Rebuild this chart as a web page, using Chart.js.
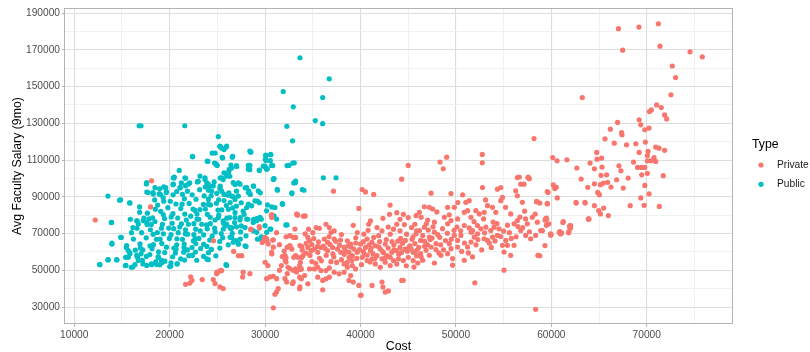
<!DOCTYPE html>
<html><head><meta charset="utf-8">
<script src="https://cdn.jsdelivr.net/npm/chart.js@4"></script>
<style>html,body{margin:0;padding:0;background:#fff}#wrap{width:810px;height:352px;position:relative}</style>
</head><body><div id="wrap"><canvas id="c" width="810" height="352"></canvas></div>
<script>
const seriesNames = ["Private", "Public"];
const seriesColors = ["#F8766D", "#00BFC4"];
const xTickValues = [10000, 20000, 30000, 40000, 50000, 60000, 70000];
const yTickValues = [30000, 50000, 70000, 90000, 110000, 130000, 150000, 170000, 190000];

const privateData = [
[18100,98700],[18000,84500],[12200,77400],
[30650,80000],[30700,78800],[33400,80000],[34000,79500],[28500,72400],[29400,73000],[30000,67900],[30200,66100],[29900,67000],[29700,65200],[30800,66500],[32200,68300],[33200,67900],[32600,62900],[32800,61600],[33850,62900],[33200,58000],[33000,57100],[33850,57100],[33700,54400],[30700,58900],[30000,54400],[30300,52600],[31700,52600],[32400,51700],[33200,50800],[33700,50500],[26700,60300],[27200,58000],[27550,58000],[24600,66100],[24950,49000],[25450,49900],[27700,49000],
[22200,46400],[22340,44600],[22130,43100],[21670,42400],[23410,45000],[24570,45000],[24750,42800],[24920,48200],[25090,49100],[25340,50000],[25270,41000],[25610,40100],[27650,46400],[28410,48200],[28490,72300],[29390,73800],[30690,80300],[30690,59900],[30160,67100],[29990,66200],[30860,66600],[30330,64400],[30860,62600],[32080,58100],[32190,56900],[32110,55400],[32190,54500],[32600,50900],[32950,50000],[33300,49100],[30160,45500],[30510,46400],[31210,45500],[30860,46800],[31380,40100],[31210,38300],[31030,37000],[30860,29600],[32320,48200],[32080,45500],[32260,43700],[32950,43700],[32880,42800],[33650,41000],[33300,80600],[32600,68900],[32950,68000],[33130,72500],[32320,62600],[32600,63500],[33650,63500],
[37170,93100],[40175,94000],[40520,92700],[41380,91300],[39830,83700],[43100,85500],[33380,80500],[34200,79600],[43040,80500],[43800,81400],[44490,80500],[45000,78700],[44140,77800],[39240,74500],[41040,76900],[40860,75100],[42350,78300],[41730,73300],[42250,71500],[36380,75100],[36730,73300],[36900,70600],[37240,71500],[34550,72400],[35345,73300],[35690,72900],[39660,70600],[40350,69700],[40690,67000],[41380,67900],[43800,75100],[43450,72400],[43110,69700],[44140,71500],[44830,69700],[45350,73300],[45700,75100],[45870,71500],[34480,67900],[34650,66100],[36200,67000],[36550,65200],[37240,67000],[34480,62500],[34830,60700],[35170,61600],[35520,59800],[35860,62500],[36550,60700],[37070,62500],[37590,61600],[37930,59800],[38280,62500],[38620,66100],[38970,64300],[39310,61600],[38790,59800],[39140,58000],[39660,59800],[40000,64300],[40520,62500],[41040,60700],[41550,63400],[42070,61600],[42590,64300],[40170,57100],[40690,55300],[41210,56200],[41730,58000],[42250,56200],[42760,58000],[43280,59800],[43800,60700],[44140,62500],[44660,61600],[45180,63400],[45520,59800],[45870,58000],[41550,53500],[42070,51700],[42590,54400],[43110,52600],[43450,55300],[43970,56200],[44490,55300],[45000,57100],[45520,55300],[33450,57100],[33970,58000],[33620,52600],[33800,50800],[33280,49900],[33620,46300],[33800,45400],[34140,47200],[34655,50800],[35170,50800],[35520,51700],[35860,49900],[36380,49900],[36730,51300],[35520,46300],[36040,44500],[36380,45400],[36730,46300],[37240,49000],[37760,48100],[38280,53500],[38620,51700],[39140,52600],[39480,50800],[38280,49000],[38970,47200],[34480,42700],[36040,39400],[33620,40000],[38790,44500],[39240,43600],[39830,41800],[40000,36400],[41210,41800],[42250,43600],[42350,40900],[42590,38200],[44320,44500],[42920,38800],[44480,44600],
[44310,99600],[45000,107100],[48330,108900],[48670,105300],[49030,111600],[52760,113100],[52760,108500],[56640,100800],[57580,100800],[57690,99900],[58180,121700],
[47390,92000],[49480,91800],[50700,91100],[51040,87000],[51390,87900],[52780,95100],[54350,94200],[54700,95100],[54870,89700],[54700,87900],[56440,100500],[57550,100500],[56790,96900],[57130,96900],[56260,93300],[56440,90600],[56960,87000],[58460,87500],[59570,92900],[60200,96500],[46690,84600],[47210,84300],[47560,83400],[46170,81600],[45820,79800],[46350,78900],[47040,77400],[47740,76200],[46690,73500],[46170,71700],[45820,69900],[46520,69000],[47210,68100],[47740,70800],[47910,64500],[47390,62700],[46870,60900],[47210,58200],[46350,57300],[46000,54000],[46520,55500],[47740,54000],[48430,58200],[49130,59100],[49480,61800],[50170,66300],[50520,69000],[49830,69000],[50170,62700],[49650,56400],[49650,52800],[50870,55500],[51740,57300],[51220,62700],[51570,65400],[51910,68100],[52260,69900],[49130,84300],[49830,84300],[48780,78900],[49130,75300],[49480,77100],[50170,78000],[50870,81600],[51220,82500],[51570,78900],[52090,82500],[52440,80700],[52960,81600],[53310,85200],[53830,84300],[54180,81600],[50870,74400],[51390,73100],[51740,71700],[52260,74400],[52610,72600],[53130,73500],[53650,71700],[54000,73500],[54520,72600],[52960,67200],[53310,66300],[53830,68100],[54350,69000],[54870,63600],[55390,63600],[55040,60000],[55740,58200],[56090,63600],[55220,66300],[55740,80700],[56090,75300],[56440,77100],[56790,71700],[57310,69000],[57830,67200],[58350,69000],[57480,75300],[58000,78900],[58530,76200],[58880,71700],[59400,78000],[59740,75300],[59920,69900],[55040,50100],[51980,43200],[58600,58200],[58350,28800],
[58460,87300],[58630,58100],[62580,87000],[63520,87000],[63870,77900],[61950,74300],[60830,70700],[40050,36500],
[67030,181500],[69180,182400],[71210,184200],[67470,169800],[71380,172000],[74530,168900],[75820,166200],[72670,161200],[73020,154900],[72530,145500],[63240,144000],
[71030,140000],[71520,138600],[70480,137300],[70270,136400],[71870,134600],[72080,132400],[69200,131900],[69370,129200],[69790,126500],[70240,127400],[66940,130500],[66180,126800],[67360,125000],[67400,123800],[65620,121600],[66590,119200],[67880,118300],[68850,118900],[69850,119800],[64750,114200],[65270,111100],[64790,110500],[64060,108400],[64510,105300],[62670,105700],[69200,114200],[70130,114700],[70060,112500],[70930,117100],[71280,116500],[71870,115300],[70410,109600],[70760,111400],[70930,109300],[70060,109600],[68610,108900],[69030,106000],[69440,106000],[69790,106000],[69470,102000],[70060,102800],[71730,101500],[60140,111400],[60590,109600],[61630,110200],[67080,106900],[67290,104200],[65790,102000],[66840,99300],[68050,100200],[67530,94800],[65310,106200],[65200,101700],[65450,97500],[65900,97900],[65140,96600],[64510,97100],[66250,95300],[64860,92400],[65030,91200],[63820,95200],[63120,99700],[60520,95200],[60350,94500],[60620,89400],[59580,86100],[59650,92400],[62600,86600],[63540,86600],[64510,85200],[64960,82500],[65480,83900],[65140,80700],[65970,79800],[63920,78000],[68260,85200],[69370,89400],[69720,85400],[71310,84800],[69790,96200],[70240,91700],[61210,76100],[61910,74000],[62010,73100],[60870,70400],[60970,69800],[61800,70400],[59930,69100],[59480,78500],[59480,74500],
[59330,63500],[58790,57900],[59050,71600],[59960,69500],[60900,71100],[61080,70400],[61840,71100],[62020,74300],[61950,73400],[61250,76600],[59330,77400],[59510,77900],[59510,74900],[63940,77900],[58790,86600],[59570,86400],
[34900,64000],[35600,65500],[36100,63200],[36800,64100],[37400,65800],[37800,63700],[38400,60800],[39000,62700],[39500,64900],[40300,60200],[40900,63900],[41300,59100],[41900,62800],[42400,59600],[42900,62100],[43500,63800],[44000,58800],[44400,64800],[44900,60400],[45300,61700],[45700,64600],[46100,62500],[46700,65900],[47300,66800],[47900,61300],[48400,63900],[48900,66200],[49300,64600],[49800,71800],[48600,72700],[48100,69400],[47600,73700],[46900,75300],[45400,66900],[44200,67400],[43300,65600],[42000,65700],[41200,65200],[40400,58600],[39600,56500],[38800,57000],[38000,55800],[37200,57300],[36400,58200],[35700,56600],[34900,54800],[34300,59400],[35300,53800],[36900,54700],[38600,54300],[40100,53100],[41000,54600],[42600,56800],[43800,53400],[44800,52500],[45600,51800],[46300,66300],[47000,64000],[48200,59500],[50600,60300],[51300,59500],[52100,63900],[52700,61100],[53500,64900],[54100,66000],[54700,68400],[55600,70500],[56300,68300],[57000,73300],[57700,71000],[55400,74600],[53900,76300],[52900,78000],[51900,76500],[50500,71500],[49300,80200],[48000,81800],[50200,86900],[53100,88300],[55200,84300],[57200,82200],[58300,80600],[56700,79000],
[33900,61000],[34300,64700],[34700,58100],[35100,67300],[35500,63000],[35900,55200],[36300,61900],[36700,68300],[37100,59000],[37500,54300],[37900,66500],[38300,58700],[38700,63300],[39100,55300],[39500,67700],[39900,61300],[40300,65600],[40700,58300],[41100,62000],[41500,56400],[41900,68900],[42300,60300],[42700,66800],[43100,57200],[43500,61100],[43900,65900],[44300,59700],[44700,66300],[45100,62900],[45500,68300],[45900,60900],[46300,59100],[46700,63100],[47100,71900],[47500,67600],[48300,68000],[48700,61200],[49100,70200],[49500,66900],[50100,73600],[50900,64900],[51600,70800],[52300,66800],[53000,70400],[53700,62500],[54300,75500],[55000,71400],[55800,67400],[56500,73800],[57300,78000],[31500,64000],[31800,57500],[31200,70500],[32000,60500],[31500,50000],[34200,69800],[35000,70500],[38000,69500],[40800,71800],[42900,73600],[44600,74900]
];

const publicData = [
[16800,128700],[17000,128700],[21580,128700],[22385,112000],[17550,97000],[21000,104400],[20450,100300],[21230,97600],[22100,97600],[22900,98100],[19375,95400],[20350,96600],[21100,95000],[17600,92600],[18250,92300],[18900,91600],[19650,92300],[13530,90400],[14750,88200],[15800,86800],[16850,84500],[16850,81600],[18430,88300],[18500,83300],[13880,76000],[15875,77800],[16600,76900],[16150,73300],[16575,72900],[17835,78000],[18080,75000],[14930,67900],[13950,64300],[13530,55700],[14475,55700],[12650,53200],[15450,62500],[15800,59800],[15385,57100],[15350,52600],[15980,51700],[17200,53500],[18080,53500],[18955,53000],[20000,52100],[20775,53500],
[32280,128400],[32875,120500],[25100,122800],[25280,117400],[25450,116500],[25900,117000],[24450,113800],[25500,111500],[24000,109300],[24700,108400],[24900,107500],[26600,112000],[28500,114300],[30100,112500],[30600,112900],[30100,109800],[30550,109700],[30800,107000],[30100,105700],[29400,104400],[28300,106600],[28400,104800],[27000,107000],[26500,105700],[26200,103900],[26000,102100],[26300,101200],[25600,99400],[25300,100300],[32300,107000],[32900,108400],[30900,99800],[33000,97600],[31300,93600],[32800,92200],[33900,94000],[23000,98500],[23700,99400],[23900,97600],[24200,95800],[24400,93100],[25300,95800],[25450,93100],[25700,91300],[26200,92200],[26500,90400],[26850,96700],[27200,97600],[27000,93100],[27200,90400],[26850,88600],[27900,94900],[28300,93100],[28800,95800],[29500,92200],[28450,91300],[29200,87700],[29400,86800],[27000,85000],[27500,86800],[27700,82300],[26850,81400],[26150,83200],[28200,77800],[28800,77800],[29100,78100],[29600,77800],[26300,78700],[26850,78700],[27400,78700],[25100,78700],[25600,76900],[27900,73300],[27500,74200],[27000,73700],[26500,73300],[25800,74200],[30600,72400],[32300,74700],[31800,86300],[30250,85600],[30700,84500],[29200,67000],[29600,68300],[28000,68800],[27900,63400],[26500,67900],[26850,66100],[27400,67000],[27200,64300],[25900,53100],[23900,56200],
[14860,88400],[15840,86600],[13920,76100],[14860,68000],[13950,64800],[13560,55800],[14440,55800],[12690,53100],[15420,52700],[16120,51800],[16360,53100],[15490,63500],[15660,60800],[15840,59000],[15660,57200],[16890,64400],[16540,58100],[16710,55400],[17590,52700],[18110,53100],[18640,53200],[17230,77000],[17590,76100],[16540,77000],[16710,75200],[17590,97700],[17750,92300],[18280,91500],[18460,95000],[18980,91500],[19330,89600],[19580,95000],[20380,100400],[21600,100400],[20380,96900],[21080,95000],[21950,96900],[23170,101300],[23700,100400],[24040,96900],[24570,95900],[25450,100400],[25970,101300],[26660,97700],[27370,96900],[28070,95000],[28760,95900],[29280,93200],[28240,92300],[28940,87800],[28240,86000],[28070,84200],[28590,85100],[29460,78800],[29120,77000],[28760,76100],[28070,77900],[27370,77400],[28760,71600],[29120,70700],[29990,74300],[30510,72500],[30160,70700],[30160,82400],[31030,84200],[30930,79700],[31210,77900],[30860,99500],[31270,94100],[31840,86000],[32180,74700],[32810,91800],[33160,97700],[26320,68000],[27020,66200],[27190,64400],[26660,65300],[26320,73400],[25970,75200],[25620,72500],[28000,63000],[29480,67100],[25970,52700],[24040,55800],[20100,52200],[20790,53600],[19500,55000],[18800,56900],
[33650,165700],[36720,154200],[31900,147300],[36030,144000],[32950,139000],[35260,131500],[36030,129800],[28400,114900],[30060,112700],[30580,113100],[30060,110400],[28410,107100],[29810,106700],[30230,105300],[30720,107100],[29390,104600],[32500,107100],[33060,108500],[30930,99900],[36100,100400],[37430,100400],[33200,98600],[34070,93600],
[22410,111800],[20480,100800],[21670,100100],[24760,113800],[23940,109400],[24850,108000],[24990,107100],[25270,117600],[25690,115700],[25970,117600],[25550,111200],[26560,111600],[27020,106500],[26420,107300],[26240,105000],[25690,103100],[26140,102300],[28490,114500],[28240,107100],[28240,105000],[30020,110400],[30690,107100],[29990,106700],[30160,105000],
[18150,61800],[18620,66900],[18710,70600],[19240,75100],[19330,80400],[19810,84100],[20060,87600],
[17920,58600],[18840,60100],[19180,64600],[19970,67400],[20420,72700],[21230,75300],[21580,80600],[22440,83400],[22760,88700],[23620,90500],
[17540,67700],[17980,72100],[18210,78600],[19060,82100],[19380,87600],
[20310,57400],[20670,61600],[21520,64300],[21880,69700],[22730,72400],[23060,77800],[23940,80500],[24270,85600],[25130,88400],
[21150,56300],[21470,59900],[22340,62400],[22670,67200],[23560,69300],[23870,74700],[24750,77400],[25060,82800],[25940,85300],
[22380,58100],[23240,61900],[23560,64100],[24450,68600],[24760,70900],[25640,75600],[25980,78400],
[24060,59600],[24370,61400],[25240,65700],[25560,67800],[26420,72600],
[19130,55600],[19480,59700],[20440,62100],[20760,67200],[21640,69900],[21960,75100],[22860,77900],[23170,83100],[24060,85900],[24340,90600],
[17180,61100],[17940,63400],[18270,69600],[19140,72900],[19460,78200],[20340,80900],[20660,86100],[21540,88900],[21860,93100],
[16930,62100],[17060,70500],[17640,74900],[17660,81100],[18740,85500],[19060,91100],[20740,92900],[21660,96100],[23140,93900],[24060,93600],
[20140,69400],[20260,75600],[20840,78500],[21160,83600],[22040,86400],[22360,91100],[23740,95400],[24660,98100],
[21340,66900],[21660,72100],[22540,75400],[22860,80600],[23740,83400],[24060,88600],[24940,91900],[25260,94600],[26140,90900],
[21860,61100],[22740,64600],[23060,67400],[23940,72600],[24260,75400],[25140,80100],[25460,82900],[26340,86900],[26660,90100],
[16640,57100],[17140,55500],[17560,57600],[18540,54600],[19160,54100],[20140,54100],[21560,55600],[22840,55500],[23560,57600],[24840,57900],[25260,62100],[26140,63900],[26560,70100],[27440,70900],
[19660,62600],[20740,63900],[21060,73600],[22540,69400],[23360,75100],[24240,78900],[20160,79100],[19340,69900],[18460,76600],[21740,77400],[22660,82600],[23540,85900],[20360,91100],[19660,92900],[18940,94400],[21340,91400],
[19900,73000],[20900,70500],[22200,79500],[23200,71500],[24700,73000],[21300,86000],[22000,58000],[19000,67000],[18300,64000],[17300,78500],[16200,67000],[16000,70500],[16400,61000],[17000,59000],[18800,57500],[20600,59500],[22500,66000],[24200,66500],[25400,70000],[26800,76000],[27800,80500],[26600,84000],[25700,88000],[24900,86500],[23900,63000],[22700,60000],[21500,62500]
];

const toPts = arr => arr.map(p => ({x: p[0], y: p[1]}));
const FONT = '"Liberation Sans", Arial, Helvetica, sans-serif';
const xGrid = []; for (let v = 10000; v <= 75000; v += 5000) xGrid.push(v);
const yGrid = []; for (let v = 30000; v <= 190000; v += 10000) yGrid.push(v);

const overlay = {
  id: 'overlay',
  afterDraw(chart) {
    const ctx = chart.ctx, a = chart.chartArea;
    ctx.save();
    ctx.strokeStyle = '#B3B3B3'; ctx.lineWidth = 1;
    ctx.strokeRect(Math.round(a.left) - 0.5, Math.round(a.top) + 0.5, Math.round(a.right - a.left) + 1, Math.round(a.bottom - a.top) - 1);
    ctx.fillStyle = '#000';
    ctx.font = '12.3px ' + FONT;
    ctx.textAlign = 'center'; ctx.textBaseline = 'alphabetic';
    ctx.fillText('Cost', (a.left + a.right) / 2, 350);
    ctx.save();
    ctx.translate(21, (a.top + a.bottom) / 2);
    ctx.rotate(-Math.PI / 2);
    ctx.fillText('Avg Faculty Salary (9mo)', 0, 0);
    ctx.restore();
    ctx.textAlign = 'left';
    ctx.fillText('Type', 752, 148.3);
    ctx.font = '10.2px ' + FONT;
    ctx.textBaseline = 'middle';
    const ys = [165, 184.3];
    seriesNames.forEach((n, i) => {
      ctx.fillStyle = seriesColors[i];
      ctx.beginPath(); ctx.arc(761, ys[i], 2.6, 0, Math.PI * 2); ctx.fill();
      ctx.fillStyle = '#1A1A1A';
      ctx.fillText(n, 777, ys[i]);
    });
    ctx.restore();
  }
};

new Chart(document.getElementById('c'), {
  type: 'scatter',
  data: {
    datasets: [
      { label: seriesNames[0], data: toPts(privateData), backgroundColor: seriesColors[0], pointRadius: 2.6, pointBorderWidth: 0, borderWidth: 0 },
      { label: seriesNames[1], data: toPts(publicData), backgroundColor: seriesColors[1], pointRadius: 2.6, pointBorderWidth: 0, borderWidth: 0 }
    ]
  },
  options: {
    responsive: false, animation: false, devicePixelRatio: 1, events: [],
    layout: { padding: { left: 0, right: 78, top: 7, bottom: 0 } },
    plugins: { legend: { display: false }, tooltip: { enabled: false } },
    scales: {
      x: {
        type: 'linear', min: 9030, max: 78930,
        afterBuildTicks: s => { s.ticks = xGrid.map(v => ({ value: v })); },
        afterFit: s => { s.height = 28; },
        border: { display: false },
        grid: {
          color: c => (c.tick && c.tick.value % 10000 === 0) ? '#DDDDDD' : '#EEEEEE',
          lineWidth: c => (c.tick && c.tick.value % 10000 === 0) ? 1.1 : 0.8,
          tickLength: 3,
          tickColor: c => (c.tick && c.tick.value % 10000 === 0) ? '#B3B3B3' : 'rgba(0,0,0,0)',
          tickWidth: 1
        },
        ticks: {
          autoSkip: false, maxRotation: 0, padding: 2, color: '#4D4D4D',
          font: { size: 10.2, family: FONT },
          callback: v => xTickValues.includes(v) ? String(v) : ''
        }
      },
      y: {
        type: 'linear', min: 20810, max: 192700,
        afterBuildTicks: s => { s.ticks = yGrid.map(v => ({ value: v })); },
        afterFit: s => { s.width = 65; },
        border: { display: false },
        grid: {
          color: c => (c.tick && yTickValues.includes(c.tick.value)) ? '#DDDDDD' : '#EEEEEE',
          lineWidth: c => (c.tick && yTickValues.includes(c.tick.value)) ? 1.1 : 0.8,
          tickLength: 3,
          tickColor: c => (c.tick && yTickValues.includes(c.tick.value)) ? '#B3B3B3' : 'rgba(0,0,0,0)',
          tickWidth: 1
        },
        ticks: {
          autoSkip: false, padding: 2, color: '#4D4D4D',
          font: { size: 10.2, family: FONT },
          callback: v => yTickValues.includes(v) ? String(v) : ''
        }
      }
    }
  },
  plugins: [overlay]
});
</script>
</body></html>
